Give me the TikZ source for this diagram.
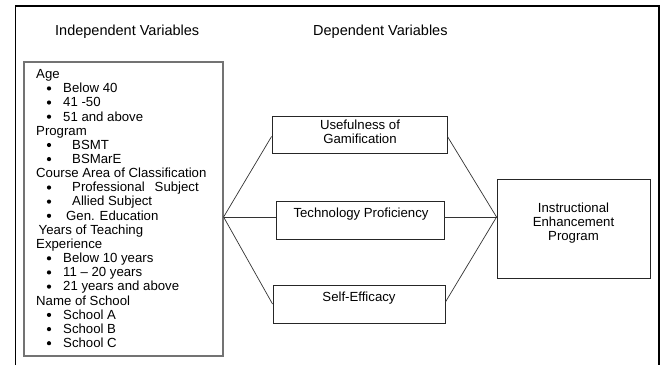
\documentclass[tikz,border=0pt]{standalone}
\usepackage{fontspec}
\setmainfont{Liberation Sans}
\newcommand{\hdfont}{\fontsize{14.5}{17}\selectfont}
\newcommand{\bdfont}{\fontsize{13.2}{15}\selectfont}
\begin{document}
\begin{tikzpicture}[x=1pt,y=-1pt,
  lbl/.style={anchor=base west,inner sep=0pt,font=\bdfont},
  bul/.style={circle,fill=black,inner sep=0pt,minimum size=4.2pt},
  ctr/.style={anchor=base,inner sep=0pt,font=\bdfont},
  box/.style={draw=black!85,line width=0.9pt,inner sep=0pt},
  conn/.style={draw=black!80,line width=0.7pt}]
\useasboundingbox (0,0) rectangle (663,365);
% outer frame (open at the bottom)
\draw[line width=1.4pt] (15.5,365) -- (15.5,6) -- (659,6) -- (659,365);
% headers
\node[anchor=base west,inner sep=0pt,font=\hdfont] (h1) at (55,35) {Independent Variables};
\node[anchor=base west,inner sep=0pt,font=\hdfont] (h2) at (313,35) {Dependent Variables};
% left box
\node[draw=black!55,line width=1.2pt,minimum width=199pt,minimum height=294pt,inner sep=0pt] (iv) at (123.5,209) {};
\node[lbl] (l1) at (36,78.5) {Age};
\node[bul] (b2) at (49,88.4) {}; \node[lbl] (l2) at (63,92.7) {Below 40};
\node[bul] (b3) at (49,102.5) {}; \node[lbl] (l3) at (63,106.8) {41 -50};
\node[bul] (b4) at (49,116.7) {}; \node[lbl] (l4) at (63,121) {51 and above};
\node[lbl] (l5) at (36,135.1) {Program};
\node[bul] (b6) at (49,145) {}; \node[lbl] (l6) at (72,149.3) {BSMT};
\node[bul] (b7) at (49,159.1) {}; \node[lbl] (l7) at (72,163.4) {BSMarE};
\node[lbl] (l8) at (36,177.6) {Course Area of Classification};
\node[bul] (b9) at (49,187.5) {}; \node[lbl] (l9) at (72,191.8) {Professional\hspace{0.75em}Subject};
\node[bul] (b10) at (49,201.6) {}; \node[lbl] (l10) at (72,205.9) {Allied Subject};
\node[bul] (b11) at (49,215.8) {}; \node[lbl] (l11) at (66,220.1) {Gen. Education};
\node[lbl] (l12) at (38.5,234.3) {Years of Teaching};
\node[lbl] (l13) at (36,248.4) {Experience};
\node[bul] (b14) at (49,258.3) {}; \node[lbl] (l14) at (63,262.6) {Below 10 years};
\node[bul] (b15) at (49,272.4) {}; \node[lbl] (l15) at (63,276.7) {11 – 20 years};
\node[bul] (b16) at (49,286.6) {}; \node[lbl] (l16) at (63,290.9) {21 years and above};
\node[lbl] (l17) at (36,305.1) {Name of School};
\node[bul] (b18) at (49,314.9) {}; \node[lbl] (l18) at (63,319.2) {School A};
\node[bul] (b19) at (49,329.1) {}; \node[lbl] (l19) at (63,333.4) {School B};
\node[bul] (b20) at (49,343.2) {}; \node[lbl] (l20) at (63,347.5) {School C};
% middle boxes
\node[box,minimum width=175pt,minimum height=37pt] (u) at (359.5,134.5) {};
\node[ctr] (ut1) at (360,129.5) {Usefulness of};
\node[ctr] (ut2) at (360,143.5) {Gamification};
\node[box,minimum width=168pt,minimum height=38pt] (t) at (360,220) {};
\node[ctr] (tt) at (361,217.5) {Technology Proficiency};
\node[box,minimum width=172pt,minimum height=38pt] (s) at (359,304) {};
\node[ctr] (st) at (359,301.5) {Self-Efficacy};
% right box
\node[box,minimum width=153pt,minimum height=99pt] (ie) at (573.5,228.5) {};
\node[ctr] (it1) at (573.5,212.5) {Instructional};
\node[ctr] (it2) at (573.5,226.5) {Enhancement};
\node[ctr] (it3) at (573.5,240) {Program};
% junctions
\coordinate (jl) at (iv.east |- 0,217);
\coordinate (jr) at (ie.west |- 0,217);
% connectors
\draw[conn] (jl) -- ([yshift=-2pt]u.west);
\draw[conn] (jl) -- (t.west |- jl);
\draw[conn] (jl) -- (s.west);
\draw[conn] ([yshift=-2pt]u.east) -- (jr);
\draw[conn] (t.east |- jr) -- (jr);
\draw[conn] ([yshift=2pt]s.east) -- (jr);
\end{tikzpicture}
\end{document}
